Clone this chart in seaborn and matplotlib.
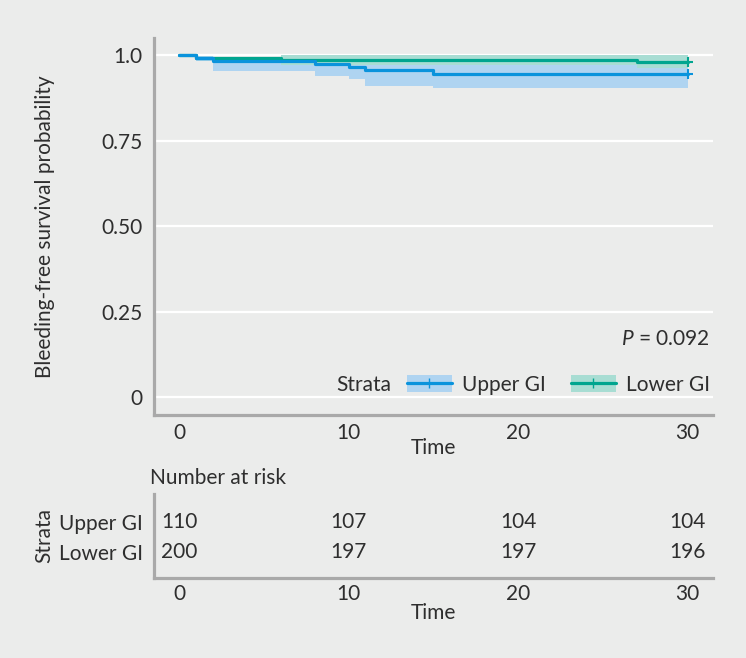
import numpy as np
import pandas as pd
import matplotlib
matplotlib.use("Agg")
import matplotlib.pyplot as plt
import seaborn as sns
from matplotlib.patches import Patch
from matplotlib.lines import Line2D

# Kaplan-Meier steps
upper_time = [0, 1, 2, 8, 10, 11, 15, 30]
upper_surv = [1.0, 0.991, 0.982, 0.973, 0.964, 0.955, 0.945, 0.945]
upper_low = [1.0, 0.982, 0.953, 0.940, 0.929, 0.910, 0.903, 0.903]
upper_high = [1.0, 0.996, 0.988, 0.985, 0.982, 0.978, 0.975, 0.975]

lower_time = [0, 1, 6, 27, 30]
lower_surv = [1.0, 0.990, 0.985, 0.980, 0.980]
lower_low = [1.0, 0.987, 0.971, 0.961, 0.961]
lower_high = [1.0, 0.993, 1.0, 1.0, 1.0]

strata = ["Upper GI", "Lower GI"]
p_text = "0.092"

# number at risk table
risk_times = [0, 10, 20, 30]
risk_upper = [110, 107, 104, 104]
risk_lower = [200, 197, 197, 196]

BG = "#ebeceb"
GREY = "#a9a9a9"
TXT = "#2e2e2e"
line_cols = {"Upper GI": "#0a93dc", "Lower GI": "#00a58f"}
band_cols = {"Upper GI": "#afd4f1", "Lower GI": "#a8ddd3"}

sns.set_theme(style="white", rc={"axes.facecolor": BG, "figure.facecolor": BG})
plt.rcParams['font.family'] = ['Lato', 'DejaVu Sans']
plt.rcParams['mathtext.fontset'] = 'custom'
plt.rcParams['mathtext.it'] = 'Lato:italic'
plt.rcParams['mathtext.rm'] = 'Lato'
FS = 15

W, H = 746, 658
fig = plt.figure(figsize=(W / 100, H / 100), dpi=100, facecolor=BG)


def px_axes(x0, x1, ytop, ybot):
    return fig.add_axes([x0 / W, 1 - ybot / H, (x1 - x0) / W, (ybot - ytop) / H])


ax = px_axes(153.6, 713, 37.9, 414.6)

df = pd.concat([
    pd.DataFrame({"Time": upper_time, "surv": upper_surv, "Strata": "Upper GI"}),
    pd.DataFrame({"Time": lower_time, "surv": lower_surv, "Strata": "Lower GI"}),
], ignore_index=True)

# confidence bands first, lower GI on top
ax.fill_between(upper_time, upper_low, upper_high, step="post",
                color=band_cols["Upper GI"], lw=0, zorder=1)
ax.fill_between(lower_time, lower_low, lower_high, step="post",
                color=band_cols["Lower GI"], lw=0, zorder=1.1)

# lower GI line first so the blue one sits on top where they meet
sns.lineplot(data=df, x="Time", y="surv", hue="Strata", hue_order=strata[::-1],
             palette=line_cols, drawstyle="steps-post", estimator=None,
             sort=False, linewidth=2.3, legend=False, ax=ax, zorder=3)

# censor marks at end of follow-up
ax.plot(upper_time[-1], upper_surv[-1], marker="+", ms=7, mew=1.5,
        color=line_cols["Upper GI"], zorder=4)
ax.plot(lower_time[-1], lower_surv[-1], marker="+", ms=7, mew=1.5,
        color=line_cols["Lower GI"], zorder=4)

ax.set_xlim(-1.5, 31.5)
ax.set_ylim(-0.05, 1.05)
ax.set_yticks([0, 0.25, 0.5, 0.75, 1.0])
ax.set_yticklabels(["0", "0.25", "0.50", "0.75", "1.0"])
ax.set_xticks([0, 10, 20, 30])
ax.grid(axis="y", color="white", lw=1.6)
ax.grid(axis="x", visible=False)
ax.set_axisbelow(True)
ax.tick_params(length=0, labelsize=FS, labelcolor=TXT)
ax.tick_params(axis="x", pad=6.3)
ax.tick_params(axis="y", pad=8)
for side in ["top", "right"]:
    ax.spines[side].set_visible(False)
for side in ["left", "bottom"]:
    ax.spines[side].set_color(GREY)
    ax.spines[side].set_linewidth(2.3)
ax.set_xlabel("Time", fontsize=FS, color=TXT)
ax.set_ylabel("Bleeding-free survival probability", fontsize=FS, color=TXT)
ax.xaxis.set_label_coords(0.5, (414.6 - 448) / 376.7)
ax.xaxis.label.set_va("center")
ax.yaxis.set_label_coords((45 - 153.6) / 559.4, 0.5)
ax.yaxis.label.set_va("center")

fig.text(710 / W, 1 - 339 / H, r"$\mathit{P}$ = " + p_text, ha="right",
         va="center", fontsize=FS, color=TXT)

# legend with title on the left
handles = [(Patch(facecolor=band_cols[s], lw=0),
            Line2D([], [], color=line_cols[s], lw=2.3, marker="+", ms=7, mew=1))
           for s in strata]
ax.legend(handles=handles, labels=strata, ncol=2, loc="center right",
          bbox_to_anchor=(710 / W, 1 - 385 / H), bbox_transform=fig.transFigure,
          frameon=False, fontsize=FS, handlelength=2.15, handleheight=0.85,
          handletextpad=0.5, columnspacing=1.2, borderpad=0, borderaxespad=0,
          labelcolor=TXT)
fig.text(336 / W, 1 - 385 / H, "Strata", ha="left", va="center",
         fontsize=FS, color=TXT)

# risk table
rax = px_axes(153.6, 713, 494, 577.5)
rax.set_facecolor(BG)
rax.set_xlim(-1.5, 31.5)
rax.set_ylim(0.157, 2.923)
for t, n in zip(risk_times, risk_upper):
    rax.text(t, 2, str(n), ha="center", va="center", fontsize=FS, color=TXT)
for t, n in zip(risk_times, risk_lower):
    rax.text(t, 1, str(n), ha="center", va="center", fontsize=FS, color=TXT)
rax.set_yticks([1, 2])
rax.set_yticklabels(["Lower GI", "Upper GI"])
rax.set_xticks(risk_times)
rax.tick_params(length=0, labelsize=FS, labelcolor=TXT)
rax.tick_params(axis="x", pad=4.8)
rax.tick_params(axis="y", pad=7.5)
for side in ["top", "right"]:
    rax.spines[side].set_visible(False)
for side in ["left", "bottom"]:
    rax.spines[side].set_color(GREY)
    rax.spines[side].set_linewidth(2.3)
rax.set_xlabel("Time", fontsize=FS, color=TXT)
rax.set_ylabel("Strata", fontsize=FS, color=TXT)
rax.xaxis.set_label_coords(0.5, (577.5 - 613) / 83.5)
rax.xaxis.label.set_va("center")
rax.yaxis.set_label_coords((44 - 153.6) / 559.4, 0.5)
rax.yaxis.label.set_va("center")
fig.text(150 / W, 1 - 477.7 / H, "Number at risk", ha="left", va="center",
         fontsize=FS, color=TXT)

fig.savefig("out.png", dpi=100, facecolor=BG)
